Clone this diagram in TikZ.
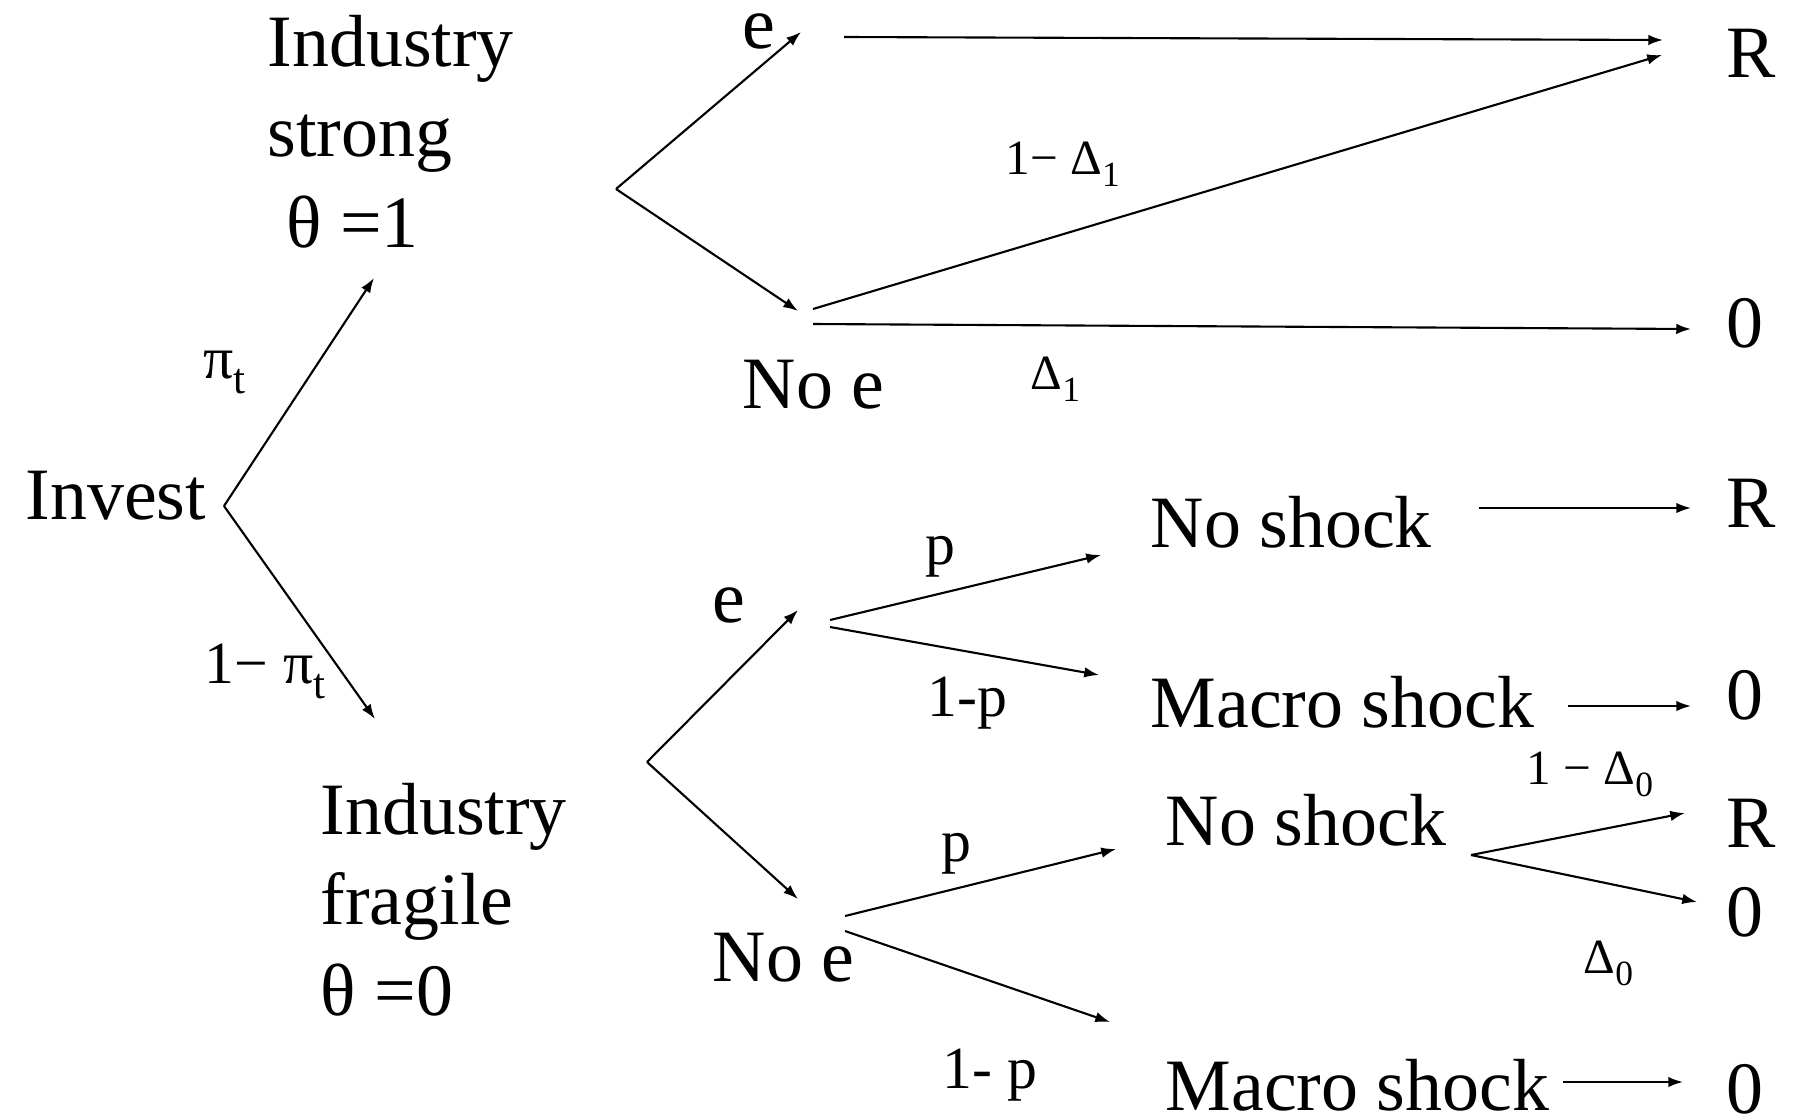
\documentclass[tikz,border=0pt]{standalone}
\usepackage{fontspec}
\setmainfont{Liberation Serif}
\usetikzlibrary{arrows.meta}

\newcommand{\lowsub}[1]{\raisebox{-0.55ex}{\scalebox{0.72}{#1}}}

\tikzset{
    bigtxt/.style={font=\fontsize{21}{25.6}\selectfont, inner sep=0pt, anchor=base west},
    problbl/.style={font=\fontsize{17}{20}\selectfont, inner sep=0pt, anchor=base west},
    deltalbl/.style={font=\fontsize{14}{17}\selectfont, inner sep=0pt, anchor=base west},
    branch/.style={-{Latex[length=4.2pt,width=3pt]}, line width=0.6pt},
}

\begin{document}
\begin{tikzpicture}[x=0.01cm, y=-0.01cm]
    \useasboundingbox (0,0) rectangle (1795,1118);

    % states
    \node[bigtxt] (invest) at (25,519) {Invest};
    \node[bigtxt, anchor=north west, align=left] (strong) at (267,15) {Industry\\strong\\\hspace{0.25em}θ =1};
    \node[bigtxt, anchor=north west, align=left] (fragile) at (320,783) {Industry\\fragile\\θ =0};
    \node[bigtxt] (eA) at (742,48) {e};
    \node[bigtxt] (noeA) at (742,408) {No e};
    \node[bigtxt] (eB) at (712,622) {e};
    \node[bigtxt] (noeB) at (712,981) {No e};
    \node[bigtxt] (noshockA) at (1150,547) {No shock};
    \node[bigtxt] (macroA) at (1150,727) {Macro shock};
    \node[bigtxt] (noshockB) at (1165,845) {No shock};
    \node[bigtxt] (macroB) at (1165,1110) {Macro shock};

    % payoffs
    \foreach \name/\pay/\y in {rA/R/77, zA/0/347, rB/R/527, zB/0/719, rC/R/847, zC/0/936, zD/0/1113} {
        \node[bigtxt] (\name) at (1726,\y) {\pay};
    }

    % probabilities
    \node[problbl] (piA) at (203,378) {π\lowsub{t}};
    \node[problbl] (piB) at (204,683) {1− π\lowsub{t}};
    \node[deltalbl] (dA) at (1005,174) {1− Δ\lowsub{1}};
    \node[deltalbl] (dB) at (1030,389) {Δ\lowsub{1}};
    \node[problbl] (pA) at (925,564) {p};
    \node[problbl] (qA) at (927,716) {1-p};
    \node[problbl] (pB) at (941,861) {p};
    \node[problbl] (qB) at (942,1088) {1- p};
    \node[deltalbl] (dC) at (1526,784) {1 − Δ\lowsub{0}};
    \node[deltalbl] (dD) at (1583,973) {Δ\lowsub{0}};

    % branch ends
    \coordinate (investfork) at (224,506);
    \coordinate (strongtip) at (374,278);
    \coordinate (fragiletip) at (375,719);
    \coordinate (strongfork) at (616,189);
    \coordinate (eAtip) at (801,32);
    \coordinate (noeAtip) at (798,311);
    \coordinate (eAout) at (844,37);
    \coordinate (rAtip) at (1663,40);
    \coordinate (noeAup) at (813,309);
    \coordinate (rAlow) at (1662,55);
    \coordinate (noeAout) at (813,324);
    \coordinate (zAtip) at (1691,329);
    \coordinate (fragilefork) at (647,762);
    \coordinate (eBtip) at (798,610);
    \coordinate (noeBtip) at (798,899);
    \coordinate (eBup) at (830,620);
    \coordinate (noshockAtip) at (1101,555);
    \coordinate (eBdown) at (830,627);
    \coordinate (macroAtip) at (1099,675);
    \coordinate (noeBup) at (845,916);
    \coordinate (noshockBtip) at (1116,849);
    \coordinate (noeBdown) at (845,931);
    \coordinate (macroBtip) at (1110,1022);
    \coordinate (noshockAout) at (1479,508);
    \coordinate (rBtip) at (1691,508);
    \coordinate (macroAout) at (1568,706);
    \coordinate (zBtip) at (1691,706);
    \coordinate (noshockBfork) at (1471,855);
    \coordinate (rCtip) at (1685,813);
    \coordinate (zCtip) at (1697,902);
    \coordinate (macroBout) at (1563,1082);
    \coordinate (zDtip) at (1683,1082);

    \foreach \a/\b in {investfork/strongtip, investfork/fragiletip, strongfork/eAtip, strongfork/noeAtip,
        eAout/rAtip, noeAup/rAlow, noeAout/zAtip, fragilefork/eBtip, fragilefork/noeBtip,
        eBup/noshockAtip, eBdown/macroAtip, noeBup/noshockBtip, noeBdown/macroBtip,
        noshockAout/rBtip, macroAout/zBtip, noshockBfork/rCtip, noshockBfork/zCtip, macroBout/zDtip} {
        \draw[branch] (\a) -- (\b);
    }
\end{tikzpicture}
\end{document}
